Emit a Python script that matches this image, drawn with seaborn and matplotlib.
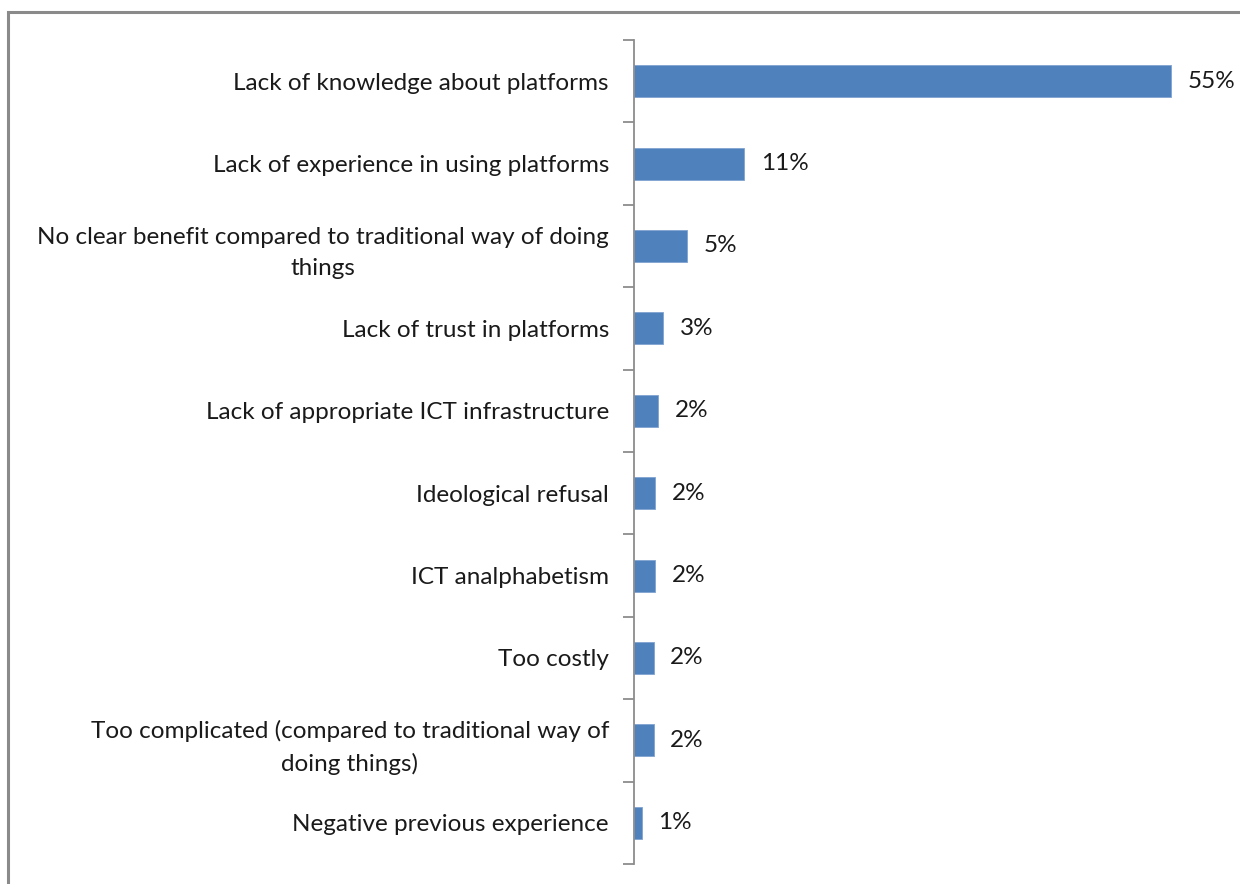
import matplotlib
matplotlib.use("Agg")
import matplotlib.pyplot as plt
from matplotlib.patches import Rectangle
import numpy as np
import pandas as pd
import seaborn as sns

categories = [
    "Lack of knowledge about platforms",
    "Lack of experience in using platforms",
    "No clear benefit compared to traditional way of doing\nthings",
    "Lack of trust in platforms",
    "Lack of appropriate ICT infrastructure",
    "Ideological refusal",
    "ICT analphabetism",
    "Too costly",
    "Too complicated (compared to traditional way of\ndoing things)",
    "Negative previous experience",
]
shares = [55.0, 11.3, 5.4, 3.0, 2.45, 2.2, 2.2, 2.0, 2.0, 0.8]

df = pd.DataFrame({"reason": categories, "share": shares})

sns.set_theme(style="white")
plt.rcParams["font.family"] = ["Lato", "DejaVu Sans"]

fig = plt.figure(figsize=(12.4, 8.84), dpi=100)
ax = fig.add_axes([634 / 1240, 1 - 864 / 884, (1220 - 634) / 1240, (864 - 40) / 884])

sns.barplot(data=df, x="share", y="reason", orient="h", color="#4F81BD",
            width=0.39, edgecolor="#7FA3D1", linewidth=0.6, saturation=1, ax=ax)

ax.set_xlim(0, 60)
ax.set_ylim(len(categories) - 0.5, -0.5)
ax.set_xlabel("")
ax.set_ylabel("")
ax.set_xticks([])

for s in ["top", "right", "bottom"]:
    ax.spines[s].set_visible(False)
ax.spines["left"].set_color("#8C8C8C")
ax.spines["left"].set_linewidth(1.3)

# category labels on the left, category boundaries as small outward ticks
ax.set_yticks(range(len(categories)))
ax.set_yticklabels(categories, fontsize=17.5, color="#1a1a1a",
                   multialignment="center", linespacing=1.6)
ax.tick_params(axis="y", which="major", length=0, pad=18)
ax.set_yticks(np.arange(-0.5, len(categories)), minor=True)
ax.tick_params(axis="y", which="minor", length=8, width=1.3, color="#8C8C8C",
               direction="out", left=True)

for i, v in enumerate(shares):
    ax.text(v + 1.7, i, f"{v:.0f}%", va="center", ha="left",
            fontsize=17.5, color="#1a1a1a")

# outer chart frame
fig.patches.append(Rectangle((8 / 1240, -0.01), 1.02, 1 - 12 / 884 + 0.01,
                             transform=fig.transFigure, fill=False,
                             edgecolor="#8A8A8A", linewidth=2.2))

fig.savefig("out.png", dpi=100, facecolor="white")
